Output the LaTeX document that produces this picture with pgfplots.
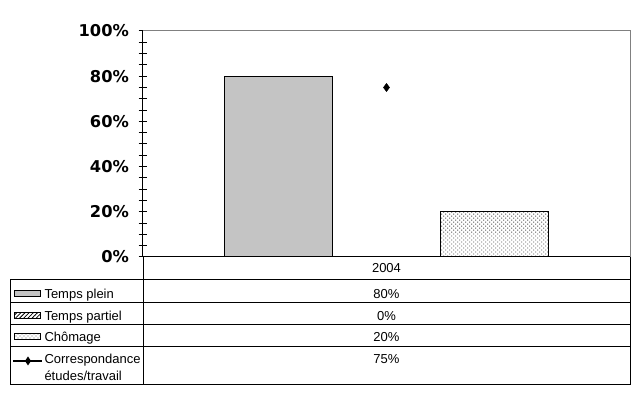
\documentclass[border=0pt]{standalone}
\usepackage{fontspec}
\setmainfont{Liberation Sans}
\newfontfamily\tickfont{DejaVu Sans}
\usepackage{pgfplots}
\pgfplotsset{compat=1.18}
\usetikzlibrary{patterns.meta}

\tikzset{
  pplein/.style={pattern={Dots[distance=1.5pt,radius=0.45pt]}},
  ppartiel/.style={pattern={Lines[angle=45,distance=2.2pt,line width=0.6pt]}},
  pchomage/.style={pattern={Dots[distance=2.12pt,angle=45,radius=0.42pt]}},
  tabtxt/.style={font=\fontsize{9.75pt}{11.7pt}\selectfont, inner sep=0pt},
}

\begin{document}
\begin{tikzpicture}
\path[use as bounding box] (0,0) rectangle (480pt,300pt);
\begin{axis}[
  at={(107.25pt,107.25pt)}, anchor=south west,
  scale only axis, width=365.25pt, height=169.5pt,
  xmin=0, xmax=1, ymin=0, ymax=100,
  axis x line*=bottom, axis y line*=left,
  xtick=\empty,
  ytick={0,20,40,60,80,100},
  yticklabels={0\%,20\%,40\%,60\%,80\%,100\%},
  minor y tick num=3,
  tick align=center,
  major tick length=6.75pt, minor tick length=6.75pt,
  tick style={black, line width=0.75pt},
  axis line style={black, line width=0.75pt},
  yticklabel style={font=\tickfont\bfseries\fontsize{12.2pt}{13pt}\selectfont, anchor=east, inner sep=0pt, xshift=-7pt},
  clip=false,
]
\draw[gray, line width=0.75pt] (rel axis cs:0,1) -- (rel axis cs:1,1) -- (rel axis cs:1,0);
% Temps plein
\addplot[ybar, bar width=0.2218, bar shift=-0.2218, draw=black, line width=0.75pt, pplein] coordinates {(0.5,80)};
% Temps partiel
\addplot[ybar, bar width=0.2218, bar shift=0, draw=black, line width=0.75pt, ppartiel] coordinates {(0.5,0)};
% Chomage
\addplot[ybar, bar width=0.2218, bar shift=0.2218, draw=black, line width=0.75pt, pchomage] coordinates {(0.5,20)};
% Correspondance etudes/travail
\addplot[only marks, mark=diamond*, mark size=3pt, black] coordinates {(0.5,75)};
\end{axis}

\begin{scope}[x=0.75pt, y=0.75pt, line width=0.75pt]
  % vertical lines
  \draw (143,143) -- (143,15);
  \draw (630,143) -- (630,15);
  \draw (10,120) -- (10,15);
  % horizontal lines
  \foreach \yy in {120,97,75,53,15} { \draw (10,\yy) -- (630,\yy); }
  % header
  \node[tabtxt, anchor=base] at (386.5,127) {2004};
  % values
  \node[tabtxt, anchor=base] at (386.5,101.5) {80\%};
  \node[tabtxt, anchor=base] at (386.5,79.5) {0\%};
  \node[tabtxt, anchor=base] at (386.5,58.5) {20\%};
  \node[tabtxt, anchor=base] at (386.5,36.5) {75\%};
  % labels
  \node[tabtxt, anchor=base west] at (44,101.5) {Temps plein};
  \node[tabtxt, anchor=base west] at (44,79.5) {Temps partiel};
  \node[tabtxt, anchor=base west] at (44,58.5) {Chômage};
  \node[tabtxt, anchor=base west] at (44,36.5) {Correspondance};
  \node[tabtxt, anchor=base west] at (44,19.5) {études/travail};
  % keys
  \draw[pplein] (14,103) rectangle (40,109);
  \draw[ppartiel] (14,81) rectangle (40,87);
  \draw[pchomage] (14,60) rectangle (40,66);
  \draw[line width=1.5pt] (13,39) -- (42,39);
  \fill (28,43.5) -- (31,39) -- (28,34.5) -- (25,39) -- cycle;
\end{scope}
\end{tikzpicture}
\end{document}
